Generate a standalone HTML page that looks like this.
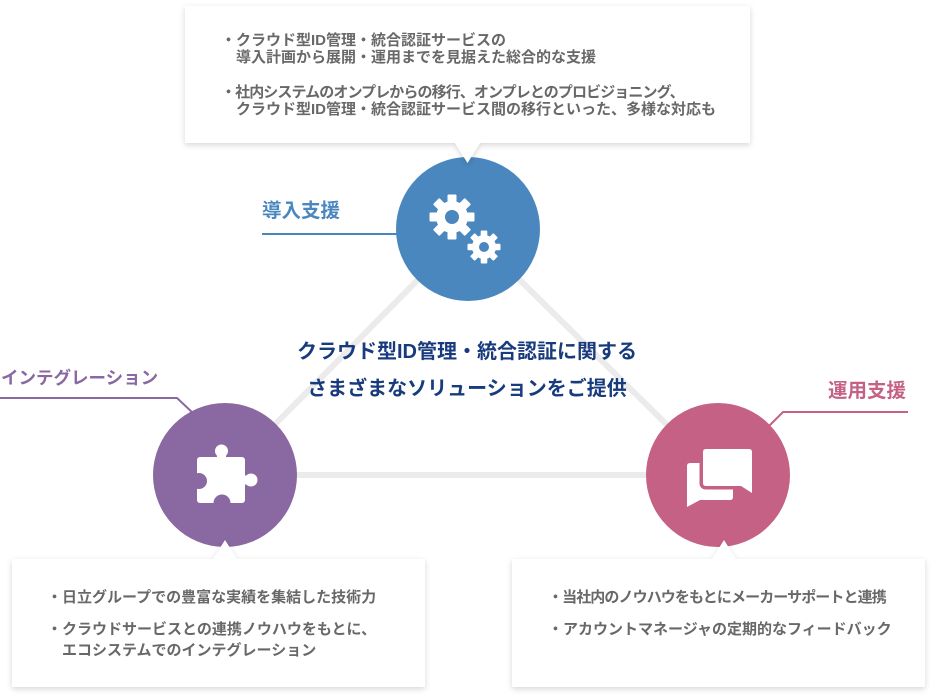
<!DOCTYPE html>
<html><head><meta charset="utf-8">
<style>
html,body{margin:0;padding:0;background:#fff;}
body{width:934px;height:699px;position:relative;overflow:hidden;font-family:"Liberation Sans","Noto Sans CJK JP",sans-serif;font-weight:bold;}
svg{position:absolute;left:0;top:0;}
.t{position:absolute;white-space:nowrap;}
.item{position:absolute;white-space:nowrap;color:#686868;font-size:15px;}
.lbl{position:absolute;white-space:nowrap;line-height:24px;}
.ctr{position:absolute;left:217px;width:500px;text-align:center;color:#183b7e;font-size:20px;line-height:37px;}
</style></head>
<body>
<svg width="934" height="699" viewBox="0 0 934 699">
<defs>
<filter id="sh" x="-10%" y="-20%" width="120%" height="150%">
<feDropShadow dx="0" dy="2" stdDeviation="3" flood-color="#000" flood-opacity="0.16"/>
</filter>
</defs>
<!-- connecting triangle -->
<g stroke="#ebebeb" stroke-width="6" fill="none">
<line x1="468" y1="229" x2="225" y2="475"/>
<line x1="468" y1="229" x2="718" y2="475"/>
<line x1="225" y1="475" x2="718" y2="475"/>
</g>
<!-- label lines -->
<line x1="262" y1="234" x2="410" y2="234" stroke="#4a87be" stroke-width="2"/>
<polyline points="0,398 177,398 194,414" fill="none" stroke="#8a68a1" stroke-width="2"/>
<polyline points="908,412 783,412 768,427" fill="none" stroke="#c56185" stroke-width="2"/>
<!-- circles -->
<circle cx="468" cy="229" r="72" fill="#4a87be"/>
<circle cx="225" cy="475" r="72" fill="#8a68a1"/>
<circle cx="718" cy="475" r="72" fill="#c56185"/>
<!-- gears -->
<g transform="translate(452,217)" fill="#fff">
<circle r="16"/>
<rect x="-4.5" y="-22.5" width="9" height="10" rx="1"/>
<rect x="-4.5" y="-22.5" width="9" height="10" rx="1" transform="rotate(45)"/>
<rect x="-4.5" y="-22.5" width="9" height="10" rx="1" transform="rotate(90)"/>
<rect x="-4.5" y="-22.5" width="9" height="10" rx="1" transform="rotate(135)"/>
<rect x="-4.5" y="-22.5" width="9" height="10" rx="1" transform="rotate(180)"/>
<rect x="-4.5" y="-22.5" width="9" height="10" rx="1" transform="rotate(225)"/>
<rect x="-4.5" y="-22.5" width="9" height="10" rx="1" transform="rotate(270)"/>
<rect x="-4.5" y="-22.5" width="9" height="10" rx="1" transform="rotate(315)"/>
<circle r="7" fill="#4a87be"/>
</g>
<g transform="translate(484,247)" fill="#fff">
<circle r="12"/>
<rect x="-3.3" y="-16.5" width="6.6" height="8" rx="1"/>
<rect x="-3.3" y="-16.5" width="6.6" height="8" rx="1" transform="rotate(45)"/>
<rect x="-3.3" y="-16.5" width="6.6" height="8" rx="1" transform="rotate(90)"/>
<rect x="-3.3" y="-16.5" width="6.6" height="8" rx="1" transform="rotate(135)"/>
<rect x="-3.3" y="-16.5" width="6.6" height="8" rx="1" transform="rotate(180)"/>
<rect x="-3.3" y="-16.5" width="6.6" height="8" rx="1" transform="rotate(225)"/>
<rect x="-3.3" y="-16.5" width="6.6" height="8" rx="1" transform="rotate(270)"/>
<rect x="-3.3" y="-16.5" width="6.6" height="8" rx="1" transform="rotate(315)"/>
<circle r="5" fill="#4a87be"/>
</g>
<!-- puzzle -->
<g fill="#fff">
<rect x="197" y="457" width="48" height="46" rx="3"/>
<circle cx="221.5" cy="451" r="6.5"/>
<rect x="217" y="451" width="9" height="8"/>
<circle cx="251" cy="480" r="6.5"/>
<rect x="243" y="475.5" width="8" height="9"/>
</g>
<circle cx="199" cy="481" r="8" fill="#8a68a1"/>
<circle cx="222" cy="503" r="8.5" fill="#8a68a1"/>
<!-- chat -->
<path d="M690 463 H730 Q733 463 733 466 V497 Q733 500 730 500 H700 L687 507 V466 Q687 463 690 463 Z" fill="#fff"/>
<path d="M706 449 H749 Q752 449 752 452 V493 L741 486 H706 Q703 486 703 483 V452 Q703 449 706 449 Z" fill="#fff" stroke="#c56185" stroke-width="7" stroke-linejoin="round" paint-order="stroke"/>
<!-- boxes -->
<path d="M185 6 H750 V143 H480 L467.5 163 L455 143 H185 Z" fill="#fff" filter="url(#sh)"/>
<path d="M12 559 H213 L225 540 L237 559 H425 V687 H12 Z" fill="#fff" filter="url(#sh)"/>
<path d="M512 559 H712 L724 540 L736 559 H925 V687 H512 Z" fill="#fff" filter="url(#sh)"/>
</svg>

<!-- top box text -->
<div class="item" style="left:221px;top:31.75px;line-height:17.5px;">・クラウド型ID管理・統合認証サービスの<br><span style="padding-left:15px;">導入計画から展開・運用までを見据えた総合的な支援</span></div>
<div class="item" style="left:221px;top:83.75px;line-height:17.5px;"><span style="letter-spacing:-0.9px;">・社内システムのオンプレからの移行、オンプレとのプロビジョニング、</span><br><span style="padding-left:15px;">クラウド型ID管理・統合認証サービス間の移行といった、多様な対応も</span></div>

<!-- labels -->
<div class="lbl" style="left:262px;top:199px;font-size:19.5px;color:#4a87be;">導入支援</div>
<div class="lbl" style="left:1px;top:366px;font-size:17.5px;color:#8a68a1;">インテグレーション</div>
<div class="lbl" style="left:828px;top:379px;font-size:19.5px;color:#c56185;">運用支援</div>

<!-- center text -->
<div class="ctr" style="top:334px;">クラウド型ID管理・統合認証に関する<br>さまざまなソリューションをご提供</div>

<!-- bottom left text -->
<div class="item" style="left:47px;top:586.5px;line-height:21px;">・日立グループでの豊富な実績を集結した技術力</div>
<div class="item" style="left:47px;top:618.5px;line-height:21px;">・クラウドサービスとの連携ノウハウをもとに、<br><span style="padding-left:15px;">エコシステムでのインテグレーション</span></div>

<!-- bottom right text -->
<div class="item" style="left:548px;top:586.5px;line-height:21px;"><span style="letter-spacing:-0.9px;">・当社内のノウハウをもとにメーカーサポートと連携</span></div>
<div class="item" style="left:548px;top:618.5px;line-height:21px;">・アカウントマネージャの定期的なフィードバック</div>
</body></html>
